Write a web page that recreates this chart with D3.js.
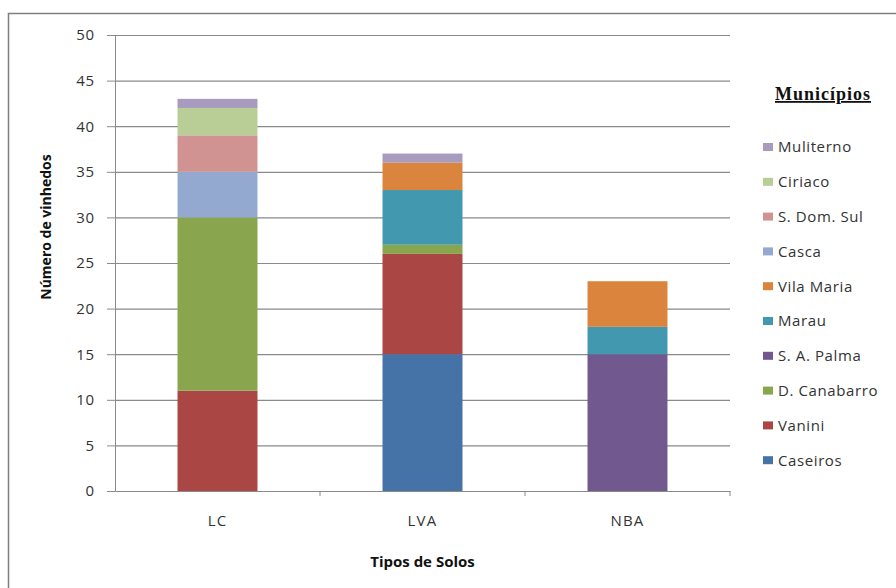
<!DOCTYPE html>
<html>
<head>
<meta charset="utf-8">
<script src="https://cdn.jsdelivr.net/npm/d3@7"></script>
<style>
  body { margin: 0; background: #fff; }
  text { font-family: "Open Sans", Lato, sans-serif; }
</style>
</head>
<body>
<script>
var soils = ['LC', 'LVA', 'NBA'];
var towns = ['Caseiros', 'Vanini', 'D. Canabarro', 'S. A. Palma', 'Marau', 'Vila Maria', 'Casca', 'S. Dom. Sul', 'Ciriaco', 'Muliterno'];
var colors = ['#4572A7', '#AA4643', '#89A54E', '#71588F', '#4198AF', '#DB843D', '#93A9CF', '#D19392', '#B9CD96', '#A99BBD'];
// one array per soil, in the order of towns
var lcValues = [0, 11, 19, 0, 0, 0, 5, 4, 3, 1];
var lvaValues = [15, 11, 1, 0, 6, 3, 0, 0, 0, 1];
var nbaValues = [0, 0, 0, 15, 3, 5, 0, 0, 0, 0];
var yTicks = [0, 5, 10, 15, 20, 25, 30, 35, 40, 45, 50];

var width = 896;
var height = 588;
var margin = { left: 115, right: 166, top: 35, bottom: 97 };

var rows = soils.map(function (s, i) {
    var vals = [lcValues, lvaValues, nbaValues][i];
    var r = { soil: s };
    towns.forEach(function (t, j) { r[t] = vals[j]; });
    return r;
});

var svg = d3.select("body").append("svg").attr("width", width).attr("height", height);

// outer chart frame
svg.append("rect")
    .attr("x", 8.5).attr("y", 13.5)
    .attr("width", 900).attr("height", 600)
    .attr("fill", "none").attr("stroke", "#7f7f7f").attr("stroke-width", 1.5);

var x = d3.scaleBand()
    .domain(soils)
    .range([margin.left, width - margin.right]);

var y = d3.scaleLinear()
    .domain([0, 50])
    .range([height - margin.bottom, margin.top]);

var color = d3.scaleOrdinal().domain(towns).range(colors);

// gridlines
svg.append("g")
    .selectAll("line")
    .data(yTicks.slice(1))
    .join("line")
    .attr("x1", margin.left).attr("x2", width - margin.right)
    .attr("y1", function (d) { return y(d) + 0.5; })
    .attr("y2", function (d) { return y(d) + 0.5; })
    .attr("stroke", "#8a8a8a").attr("stroke-width", 1.2);

var stack = d3.stack().keys(towns);
var layers = stack(rows);
var barW = x.bandwidth() * 0.39;

svg.append("g")
    .selectAll("g")
    .data(layers)
    .join("g")
    .attr("fill", function (d) { return color(d.key); })
    .selectAll("rect")
    .data(function (d) { return d; })
    .join("rect")
    .attr("x", function (d) { return x(d.data.soil) + (x.bandwidth() - barW) / 2; })
    .attr("y", function (d) { return y(d[1]); })
    .attr("width", barW)
    .attr("height", function (d) { return y(d[0]) - y(d[1]); });

// y axis
var yAxis = d3.axisLeft(y).tickValues(yTicks).tickSize(8).tickPadding(12);
var yG = svg.append("g")
    .attr("transform", "translate(" + margin.left + ",0)")
    .call(yAxis);
yG.select(".domain").attr("stroke", "#8a8a8a");
yG.selectAll(".tick line").attr("stroke", "#8a8a8a");
yG.selectAll(".tick text").attr("fill", "#333")
    .style("font-size", "15px").style("letter-spacing", "0.8px");

// x axis
var xAxis = d3.axisBottom(x).tickSize(0).tickPadding(24);
var xG = svg.append("g")
    .attr("transform", "translate(0," + y(0) + ")")
    .call(xAxis);
xG.select(".domain").attr("stroke", "#8a8a8a");
xG.selectAll(".tick text").attr("fill", "#333")
    .style("font-size", "15px").style("letter-spacing", "1.2px");
// tick marks between categories
xG.selectAll(".sep")
    .data(soils)
    .join("line")
    .attr("x1", function (d) { return x(d) + x.bandwidth(); })
    .attr("x2", function (d) { return x(d) + x.bandwidth(); })
    .attr("y1", 0).attr("y2", 5)
    .attr("stroke", "#8a8a8a");

// axis titles
svg.append("text")
    .attr("x", (margin.left + width - margin.right) / 2)
    .attr("y", 567)
    .attr("text-anchor", "middle")
    .attr("fill", "#111")
    .style("font-size", "15px").style("font-weight", "bold")
    .text("Tipos de Solos");

svg.append("text")
    .attr("transform", "translate(51,227) rotate(-90)")
    .attr("text-anchor", "middle")
    .attr("fill", "#111")
    .style("font-size", "14px").style("font-weight", "bold")
    .text("Número de vinhedos");

// legend
var legend = svg.append("g").attr("transform", "translate(763,0)");
legend.append("text")
    .attr("x", 60).attr("y", 100)
    .attr("text-anchor", "middle")
    .attr("fill", "#111")
    .style("font-family", "'Liberation Serif', serif")
    .style("font-size", "18px").style("font-weight", "bold")
    .style("letter-spacing", "1px")
    .style("text-decoration", "underline")
    .text("Municípios");

var items = legend.selectAll(".item")
    .data(towns.slice().reverse())
    .join("g")
    .attr("transform", function (d, i) { return "translate(0," + (147 + i * 34.8) + ")"; });
items.append("rect")
    .attr("x", 0).attr("y", -4)
    .attr("width", 10).attr("height", 8)
    .attr("fill", function (d) { return color(d); });
items.append("text")
    .attr("x", 15).attr("y", 0).attr("dy", "0.36em")
    .attr("fill", "#333")
    .style("font-size", "15px").style("letter-spacing", "0.6px")
    .text(function (d) { return d; });
</script>
</body>
</html>
